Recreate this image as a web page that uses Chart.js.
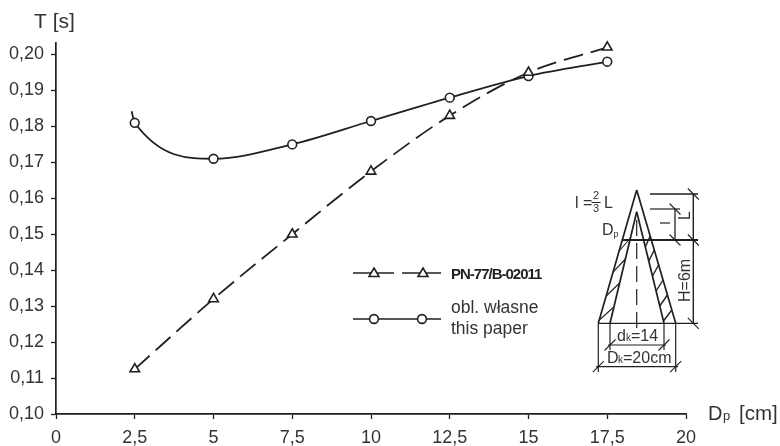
<!DOCTYPE html>
<html><head><meta charset="utf-8">
<style>html,body{margin:0;padding:0;background:#fff}#w{position:relative;width:780px;height:446px}</style>
<script src="https://cdn.jsdelivr.net/npm/chart.js@4/dist/chart.umd.min.js"></script>
</head><body><div id="w"><canvas id="c" width="780" height="446"></canvas></div>
<script>
const standardX=[2.5,5,7.5,10,12.5,15,17.5];
const standardY=[0.1125,0.132,0.15,0.1675,0.183,0.195,0.202];
const ownX=[2.4,2.5,5,7.5,10,12.5,15,17.5];
const ownY=[0.1842,0.181,0.171,0.175,0.1815,0.188,0.194,0.198];
const xTicks=[0,2.5,5,7.5,10,12.5,15,17.5,20];
const yTicks=[0.10,0.11,0.12,0.13,0.14,0.15,0.16,0.17,0.18,0.19,0.20];
const standardName='PN-77/B-02011';
const ownNames=['obl. własne','this paper'];
const INK='#231f20',TXT='#333333',FONT='"Liberation Sans", Arial, sans-serif';
const pts=(xs,ys)=>xs.map((x,i)=>({x,y:ys[i]}));
const comma=v=>String(v).replace('.',',');

function seg(c,x1,y1,x2,y2,w){c.lineWidth=w||1.3;c.beginPath();c.moveTo(x1,y1);c.lineTo(x2,y2);c.stroke();}
function text(c,s,x,y,size,align,base){c.font=size+'px '+FONT;c.textAlign=align||'left';c.textBaseline=base||'alphabetic';c.fillText(s,x,y);}
function slash(c,x,y){seg(c,x-5.5,y+5.5,x+5.5,y-5.5,1.1);}
function back(c,x,y){seg(c,x-5.5,y-5.5,x+5.5,y+5.5,1.1);}

const decor={id:'decor',afterDraw(ch){
  const c=ch.ctx;c.save();c.strokeStyle=INK;c.fillStyle=TXT;
  // axis titles
  text(c,'T [s]',34,28,21);
  text(c,'D',708,420,20);text(c,'p',723,420,13);text(c,'[cm]',739,420,20.5);
  // legend
  seg(c,353,273,394,273,1.7);seg(c,402,273,441,273,1.7);
  seg(c,353,319,441,319,1.7);
  c.lineWidth=1.6;
  [374,423].forEach(x=>{c.fillStyle='#fff';c.beginPath();c.moveTo(x,268);c.lineTo(x+5,276.5);c.lineTo(x-5,276.5);c.closePath();c.fill();c.stroke();});
  [374,422].forEach(x=>{c.beginPath();c.arc(x,319,4.4,0,Math.PI*2);c.fill();c.stroke();});
  c.fillStyle=INK;
  c.font='bold 15px '+FONT;c.textAlign='left';c.textBaseline='alphabetic';c.letterSpacing='-1px';
  c.fillText(standardName,451,279);c.letterSpacing='0px';
  c.fillStyle=TXT;
  text(c,ownNames[0],451,313,17.5);text(c,ownNames[1],451,334,17.5);
  // inset sketch
  c.strokeStyle=INK;
  seg(c,636.7,190,598.3,323.3,1.7);seg(c,636.7,190,675.7,323.3,1.7);
  seg(c,636.7,211.7,610,323.3,1.7);seg(c,636.7,211.7,664,323.3,1.7);
  seg(c,598.3,323.3,698,323.3,1.3);
  seg(c,622.7,240,698,240,1.8);
  seg(c,650,194,698,194,1.4);
  seg(c,650,209,680,209,1.2);
  seg(c,660,223,670,223,1.2);
  seg(c,693.3,194,693.3,323.3,1.4);
  seg(c,675,209,675,240,1.3);
  back(c,693.3,194);back(c,693.3,240);back(c,693.3,323.3);
  back(c,675,209);back(c,675,240);
  // center line
  c.setLineDash([16,7]);seg(c,636.7,220,636.7,328,1.2);c.setLineDash([]);
  // bottom box
  seg(c,598.3,323.3,598.3,372,1.2);seg(c,675.7,323.3,675.7,372,1.2);
  seg(c,610,323.3,610,350,1.2);seg(c,664,323.3,664,350,1.2);
  seg(c,608,345,666,345,1.2);seg(c,596,366.7,678,366.7,1.2);
  slash(c,610,345);slash(c,664,345);slash(c,598.3,366.7);slash(c,675.7,366.7);
  // hatching
  const outerL=y=>636.7-(y-190)*0.2877, innerL=y=>636.7-(y-211.7)*0.2395;
  const outerR=y=>636.7+(y-190)*0.2926, innerR=y=>636.7+(y-211.7)*0.2445;
  [320,296,272,251].forEach(y=>seg(c,outerL(y),y,innerL(y-13),y-13,1.1));
  [321,306,291,276,261,247].forEach(y=>seg(c,innerR(y),y,outerR(y-11),y-11,1.4));
  // inset labels
  c.fillStyle=TXT;
  text(c,'l =',575,208,16);
  text(c,'2',596,199,11,'center');text(c,'3',596,211.5,11,'center');seg(c,591.5,202.5,600.5,202.5,1);
  text(c,'L',604,208,16);
  text(c,'D',602,235,16);text(c,'p',613.5,237,9);
  text(c,'d',617,341,16);text(c,'k',626,341,10);text(c,'=14',631,341,16);
  text(c,'D',607,363,16);text(c,'k',618,363,10);text(c,'=20cm',623,363,16);
  c.save();c.translate(690,302);c.rotate(-Math.PI/2);text(c,'H=6m',0,0,16);c.restore();
  c.save();c.translate(690,220);c.rotate(-Math.PI/2);text(c,'L',0,0,16);c.restore();
  c.restore();
}};

new Chart(document.getElementById('c'),{
  type:'scatter',
  data:{datasets:[
    {label:standardName,data:pts(standardX,standardY),showLine:true,clip:false,borderColor:INK,borderWidth:1.8,borderDash:[20,8],cubicInterpolationMode:'monotone',
     pointStyle:'triangle',pointRadius:5.5,pointBorderWidth:1.6,pointBackgroundColor:'#fff',pointBorderColor:INK},
    {label:ownNames[0],data:pts(ownX,ownY),showLine:true,clip:false,borderColor:INK,borderWidth:1.8,cubicInterpolationMode:'monotone',
     pointStyle:'circle',pointRadius:ctx=>ctx.dataIndex===0?0:4.4,pointBorderWidth:1.6,pointBackgroundColor:'#fff',pointBorderColor:INK}
  ]},
  options:{
    responsive:false,animation:false,
    layout:{padding:{left:0,right:94,top:43,bottom:0}},
    plugins:{legend:{display:false},tooltip:{enabled:false}},
    scales:{
      x:{type:'linear',min:0,max:20,
        afterFit(s){s.height=32;},
        afterBuildTicks(s){s.ticks=xTicks.map(v=>({value:v}));},
        grid:{display:true,drawOnChartArea:false,drawTicks:true,tickLength:5,tickColor:INK,tickWidth:1.3},
        border:{color:INK,width:1.7},
        ticks:{autoSkip:false,maxRotation:0,color:TXT,padding:8,font:{family:FONT,size:18},callback:v=>comma(v)}},
      y:{type:'linear',min:0.10,max:0.2032,
        afterFit(s){s.width=56;},
        afterBuildTicks(s){s.ticks=yTicks.map(v=>({value:v}));},
        grid:{display:true,drawOnChartArea:false,drawTicks:true,tickLength:5,tickColor:INK,tickWidth:1.3},
        border:{color:INK,width:1.7},
        ticks:{autoSkip:false,color:TXT,padding:7,font:{family:FONT,size:18},callback:v=>v.toFixed(2).replace('.',',')}}
    }
  },
  plugins:[decor]
});
</script></body></html>
